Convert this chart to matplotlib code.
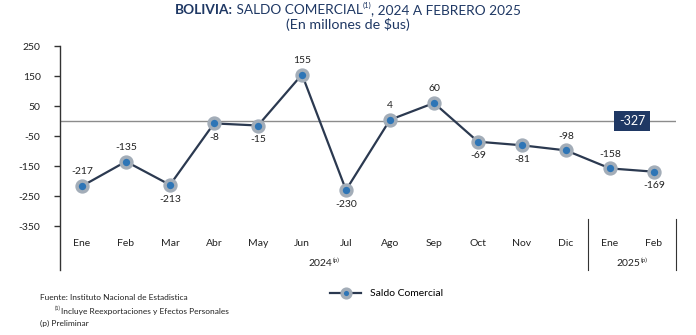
import matplotlib.pyplot as plt
import matplotlib.transforms as mtransforms

# datos
meses = ["Ene", "Feb", "Mar", "Abr", "May", "Jun", "Jul", "Ago", "Sep", "Oct", "Nov", "Dic", "Ene", "Feb"]
saldo = [-217, -135, -213, -8, -15, 155, -230, 4, 60, -69, -81, -98, -158, -169]
posicion = ["up", "up", "down", "down", "down", "up", "down", "up", "up", "down", "down", "up", "up", "down"]
yticks = [250, 150, 50, -50, -150, -250, -350]
acumulado_2025 = -327

plt.rcParams['font.family'] = ['Lato', 'DejaVu Sans']
azul = "#1f3864"
linea = "#2b3950"
texto = "#222222"

fig = plt.figure(figsize=(6.96, 3.35), dpi=100)
ax = fig.add_axes([60/696, 1-226/335, 616/696, 180/335])
renderer = fig.canvas.get_renderer()


def texto_partes(partes, xc, yc, transform, color, ha="center"):
    # partes: lista de (texto, fontsize, weight, dy en puntos)
    objs = []
    for t, fs, w, dy in partes:
        o = fig.text(0, 0, t, fontsize=fs, fontweight=w, color=color, va="baseline")
        objs.append((o, dy))
    anchos = [o.get_window_extent(renderer).width for o, _ in objs]
    px, py = transform.transform((xc, yc))
    if ha == "center":
        px -= sum(anchos) / 2
    for (o, dy), w in zip(objs, anchos):
        o.set_transform(mtransforms.IdentityTransform())
        o.set_position((px, py + dy * 100 / 72))
        px += w
    return objs


x = list(range(len(saldo)))
ax.plot(x, saldo, color=linea, linewidth=1.6, marker="o", markersize=7.8,
        markerfacecolor="#2e75b6", markeredgecolor="#a3adb8", markeredgewidth=2.5,
        label="Saldo Comercial", zorder=3)
ax.axhline(0, color="#8c8c8c", linewidth=1.0, zorder=1)

for xi, v, p in zip(x, saldo, posicion):
    if p == "up":
        ax.annotate(str(v), (xi, v), xytext=(0, 7), textcoords="offset points",
                    ha="center", va="bottom", fontsize=7.5, color=texto)
    else:
        ax.annotate(str(v), (xi, v), xytext=(0, -7), textcoords="offset points",
                    ha="center", va="top", fontsize=7.5, color=texto)

# caja acumulado 2025
ax.text(12.5, 0, str(acumulado_2025), ha="center", va="center", fontsize=9, color="white",
        bbox=dict(boxstyle="square,pad=0.35", facecolor=azul, edgecolor="none"), zorder=4)

ax.set_xlim(-0.5, len(saldo) - 0.5)
ax.set_ylim(-350, 250)
ax.set_yticks(yticks)
ax.set_yticklabels([str(t) for t in yticks], fontsize=7.5, color=texto)
ax.tick_params(axis="y", length=4, width=1, color="#333333", pad=10)
ax.set_xticks(x)
ax.set_xticklabels(meses, fontsize=7.5, color=texto)
ax.tick_params(axis="x", length=0, pad=9)
for s in ["top", "right", "bottom", "left"]:
    ax.spines[s].set_visible(False)

# eje izquierdo extendido y separadores
trans = mtransforms.blended_transform_factory(ax.transData, ax.transAxes)
ax.plot([0, 0], [1, -0.245], transform=ax.transAxes, color="#333333", linewidth=1, clip_on=False)
for xs in [11.5, 13.5]:
    ax.plot([xs, xs], [0.04, -0.245], transform=trans, color="#333333", linewidth=0.8, clip_on=False)

texto_partes([("2024", 7.5, "normal", 0), ("(p)", 4.5, "normal", 3)], 5.5, -0.225, trans, texto)
texto_partes([("2025", 7.5, "normal", 0), ("(p)", 4.5, "normal", 3)], 12.5, -0.225, trans, texto)

# titulo
texto_partes([("BOLIVIA:", 9.8, "bold", 0), (" SALDO COMERCIAL", 9.8, "normal", 0),
              ("(1)", 5.5, "normal", 4.5), (", 2024 A FEBRERO 2025", 9.8, "normal", 0)],
             0.5, 1-14/335, fig.transFigure, azul)
fig.text(0.5, 1-29/335, "(En millones de $us)", ha="center", va="baseline", fontsize=10.3, color=azul)

ax.legend(loc="center", bbox_to_anchor=(0.53, -0.375), frameon=False, fontsize=7.5,
          handlelength=3, markerscale=0.8)

fig.text(40/696, 1-298/335, "Fuente: Instituto Nacional de Estadistica", fontsize=6, va="center", color=texto)
texto_partes([("(1)", 4, "normal", 2.5), ("Incluye Reexportaciones y Efectos Personales", 6, "normal", 0)],
             55/696, 1-314/335, fig.transFigure, texto, ha="left")
fig.text(40/696, 1-323/335, "(p) Preliminar", fontsize=6, va="center", color=texto)

fig.savefig("out.png", dpi=100)
